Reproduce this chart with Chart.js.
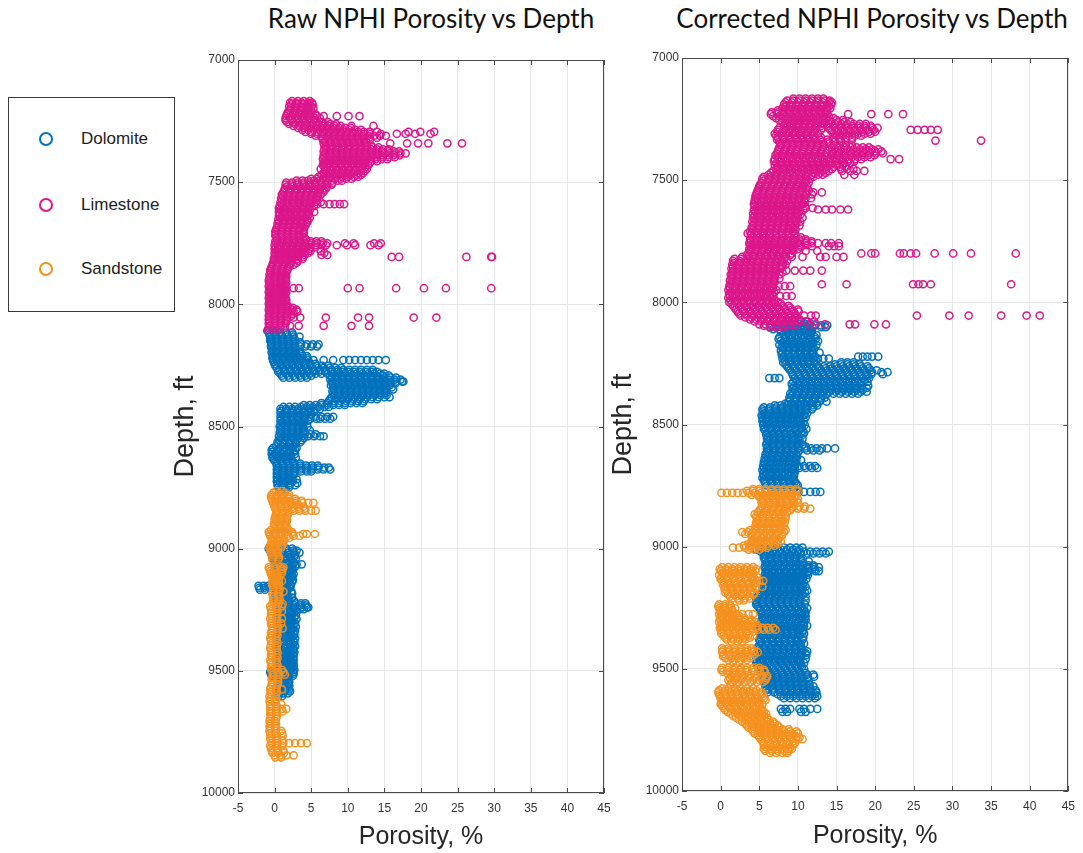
<!DOCTYPE html>
<html>
<head>
<meta charset="utf-8">
<script src="https://cdn.jsdelivr.net/npm/chart.js@4.4.1/dist/chart.umd.min.js"></script>
<style>
  html, body { margin:0; padding:0; background:#fff; }
  body { width:1083px; height:853px; position:relative; overflow:hidden; font-family:"Liberation Sans", Arial, sans-serif; }
  canvas { position:absolute; top:0; }
  #cLeft { left:160px; }
  #cRight { left:600px; }
  .title { position:absolute; top:2px; font-family:Lato, "Open Sans", sans-serif; font-size:26px; color:#111; white-space:nowrap; transform:translateX(-50%); }
  #legend { position:absolute; left:8px; top:97px; width:167px; height:215px; border:1.5px solid #3a3a3a; box-sizing:border-box; background:#fff; }
  .item { position:absolute; left:0; height:20px; }
  .mark { position:absolute; left:31px; top:4px; width:10px; height:10px; border-radius:50%; border:2px solid; box-sizing:content-box; transform:translate(-1px,-3px); }
  .lab { position:absolute; left:72px; top:-2px; font-size:17px; color:#222; }
</style>
</head>
<body>
<div class="title" id="tLeft" style="left:431px">Raw NPHI Porosity vs Depth</div>
<div class="title" id="tRight" style="left:872px">Corrected NPHI Porosity vs Depth</div>
<div id="legend"></div>
<canvas id="cLeft" width="460" height="853"></canvas>
<canvas id="cRight" width="483" height="853"></canvas>
<script>
// ---- categories / labels ----
const seriesNames = ['Dolomite', 'Limestone', 'Sandstone'];
const chartTitles = ['Raw NPHI Porosity vs Depth', 'Corrected NPHI Porosity vs Depth'];
const xLabel = 'Porosity, %';
const yLabel = 'Depth, ft';
const depthTicks = [7000, 7500, 8000, 8500, 9000, 9500, 10000];
const porosityTicks = [-5, 0, 5, 10, 15, 20, 25, 30, 35, 40, 45];

// ---- data rows: [depth ft, porosity % readings at that depth ...] ----
const rawLimestone = [
[7168,2.4,3.2,4.0,4.8],[7175,2.1,2.9,3.7,4.5,5.1],[7182,2.3,3.1,3.9,4.7,5.2],[7190,2.0,2.8,3.6,4.4,5.0],
[7198,2.2,3.0,3.8,4.6,5.3],[7206,2.0,2.7,3.5,4.3,5.0],[7214,1.8,2.6,3.4,4.2,4.8],[7222,1.7,2.5,3.3,4.1,4.6,5.6],
[7230,1.6,2.4,3.2,4.0,4.8,5.8,6.7,8.5,10.1,11.6],[7238,1.5,2.3,3.1,3.9,4.7,5.5,6.2],[7246,1.5,2.3,3.1,3.9,4.7,5.5],
[7254,1.7,2.5,3.3,4.1,4.9,5.7,6.5,7.3],[7262,2.0,2.8,3.6,4.4,5.2,6.0,6.8,7.6,8.4],
[7270,2.6,3.4,4.2,5.0,5.8,6.6,7.4,8.2,9.0,10.5,13.5],[7278,3.2,4.0,4.8,5.6,6.4,7.2,8.0,8.8,9.6,10.4],
[7286,3.8,4.6,5.4,6.2,7.0,7.8,8.6,9.4,10.2,11.0,11.8],[7294,4.2,5.0,5.8,6.6,7.4,8.2,9.0,9.8,10.6,11.4,12.2,13.0,14.0,18.3,19.9,21.8],
[7302,5.0,5.8,6.6,7.4,8.2,9.0,9.8,10.6,11.4,12.2,13.0,14.5,16.7,17.9,19.2,21.3],
[7310,5.6,6.4,7.2,8.0,8.8,9.6,10.4,11.2,12.0,12.8,13.6,14.4,15.2],[7318,6.5,7.3,8.1,8.9,9.7,10.5,11.3,12.1,12.9,14.0],
[7326,6.6,7.4,8.2,9.0,9.8,10.6,11.4,12.2,13.0],[7334,6.9,7.7,8.5,9.3,10.1,10.9,11.7,12.5],
[7341,6.7,7.5,8.3,9.1,9.9,10.7,11.5,12.3,15.8,18.1,19.6,21.0,23.6,25.6],[7350,6.8,7.6,8.4,9.2,10.0,10.8,11.6,12.4,13.2],
[7358,7.0,7.8,8.6,9.4,10.2,11.0,11.8,12.6,13.4,14.2],[7366,6.8,7.6,8.4,9.2,10.0,10.8,11.6,12.4,13.2,14.0,14.8,15.6],
[7374,6.7,7.5,8.3,9.1,9.9,10.7,11.5,12.3,13.1,13.9,14.7,15.5,16.3,17.0],
[7382,6.9,7.7,8.5,9.3,10.1,10.9,11.7,12.5,13.3,14.1,14.9,15.7,16.5,17.2,17.9],
[7390,6.7,7.5,8.3,9.1,9.9,10.7,11.5,12.3,13.1,13.9,14.7,15.5,16.3,17.1],
[7398,6.8,7.6,8.4,9.2,10.0,10.8,11.6,12.4,13.2,14.0,14.8,15.6,16.4],
[7406,6.6,7.4,8.2,9.0,9.8,10.6,11.4,12.2,13.0,13.8,14.6,15.4],[7414,6.8,7.6,8.4,9.2,10.0,10.8,11.6,12.4,13.2,14.0],
[7422,6.7,7.5,8.3,9.1,9.9,10.7,11.5,12.3,13.0],[7430,6.6,7.4,8.2,9.0,9.8,10.6,11.4,12.2,12.8],
[7438,6.8,7.6,8.4,9.2,10.0,10.8,11.6,12.4],[7446,6.3,7.0,7.8,8.6,9.4,10.2,11.0,11.8,12.6],
[7454,6.9,7.7,8.5,9.3,10.1,10.9,11.7,12.3],[7462,6.7,7.5,8.3,9.1,9.9,10.7,11.5,12.1],
[7470,6.4,7.2,8.0,8.8,9.6,10.4,11.2,11.8],[7478,6.0,6.8,7.6,8.4,9.2,10.0,10.8,11.4],
[7486,5.0,5.8,6.6,7.4,8.2,9.0,9.8,10.5],[7494,3.0,3.8,4.6,5.4,6.2,7.0,7.8,8.6,9.2],
[7502,1.6,2.4,3.2,4.0,4.8,5.6,6.4,7.2,7.9],[7510,1.5,2.3,3.1,3.9,4.7,5.5,6.3,7.1,7.8],
[7518,1.7,2.5,3.3,4.1,4.9,5.7,6.5,7.2],[7526,1.4,2.2,3.0,3.8,4.6,5.4,6.2,7.0],
[7534,1.3,2.1,2.9,3.7,4.5,5.3,6.1,6.8],[7542,1.2,2.0,2.8,3.6,4.4,5.2,6.0,6.6],
[7550,1.0,1.8,2.6,3.4,4.2,5.0,5.8,6.3],[7558,1.1,1.9,2.7,3.5,4.3,5.1,5.9],[7566,0.9,1.7,2.5,3.3,4.1,4.9,5.7],
[7574,1.0,1.8,2.6,3.4,4.2,5.0,5.8],[7582,0.8,1.6,2.4,3.2,4.0,4.8,5.6,6.3],
[7590,1.0,1.8,2.6,3.4,4.2,5.0,5.8,6.7,7.5,8.2,8.9,9.5],[7598,0.7,1.5,2.3,3.1,3.9,4.7,5.4],
[7606,0.6,1.4,2.2,3.0,3.8,4.6],[7614,0.8,1.6,2.4,3.2,4.0,4.8],[7622,0.6,1.4,2.2,3.0,3.8,4.6,5.4],
[7630,0.7,1.5,2.3,3.1,3.9,4.7],[7638,0.6,1.4,2.2,3.0,3.8,4.5],[7646,0.8,1.6,2.4,3.2,4.0,4.8],
[7654,0.5,1.3,2.1,2.9,3.7,4.5],[7662,0.6,1.4,2.2,3.0,3.8,4.5],[7670,0.4,1.2,2.0,2.8,3.6,4.3],
[7678,0.5,1.3,2.1,2.9,3.7,4.2],[7686,0.3,1.1,1.9,2.7,3.5,4.0],[7694,0.2,1.0,1.8,2.6,3.4,4.0],
[7702,0.1,0.9,1.7,2.5,3.3,3.9],[7710,0.2,1.0,1.8,2.6,3.4,4.0],[7718,0.1,0.9,1.7,2.5,3.3],
[7726,0.2,1.0,1.8,2.6,3.4,4.0],[7734,0.3,1.1,1.9,2.7,3.5,4.3],[7742,0.1,0.9,1.7,2.5,3.3,4.1,4.9,5.7,6.4],
[7750,0.2,1.0,1.8,2.6,3.4,4.2,5.0,5.8,6.6,7.2,9.6,10.8,13.6,14.5],
[7758,0.0,0.8,1.6,2.4,3.2,4.0,4.8,5.6,6.4,7.0,8.5,9.9,11.0,13.1,14.2],
[7766,0.1,0.9,1.7,2.5,3.3,4.1,4.9,5.6],[7774,0.0,0.8,1.6,2.4,3.2,4.0,4.8],
[7782,0.2,1.0,1.8,2.6,3.4,4.2,4.9,6.3],[7790,0.0,0.8,1.6,2.4,3.2,4.0,4.6,6.8],
[7798,0.1,0.9,1.7,2.5,3.3,4.1,6.4,7.2],[7806,0.0,0.8,1.6,2.4,3.2,3.9,16.0,17.0,26.2,29.6,29.7],
[7814,-0.1,0.7,1.5,2.3,3.1,3.8],[7822,0.0,0.8,1.6,2.4,3.2],[7830,-0.2,0.6,1.4,2.2,3.0],
[7838,-0.3,0.5,1.3,2.1,2.6],[7846,-0.4,0.4,1.2,2.0],[7854,-0.5,0.3,1.1,1.8],[7862,-0.6,0.2,1.0,1.7],
[7870,-0.5,0.3,1.1,1.6],[7878,-0.7,0.1,0.9,1.5],[7886,-0.6,0.2,1.0,1.6],[7894,-0.7,0.1,0.9,1.4],
[7902,-0.8,0.0,0.8,1.5],[7910,-0.6,0.2,1.0,1.6],[7918,-0.7,0.1,0.9,1.4],[7926,-0.8,0.0,0.8,1.5],
[7934,-0.6,0.2,1.0,1.5,2.6,3.3,10.0,11.6,16.6,20.4,23.4,29.6],[7942,-0.7,0.1,0.9,1.4],
[7950,-0.8,0.0,0.8,1.6],[7958,-0.6,0.2,1.0,1.5],[7966,-0.7,0.1,0.9,1.4],[7974,-0.8,0.0,0.8,1.5],
[7982,-0.6,0.2,1.0,1.6],[7990,-0.7,0.1,0.9,1.5],[7998,-0.8,0.0,0.8,1.6],[8006,-0.6,0.2,1.0,1.8],
[8014,-0.7,0.1,0.9,1.7,2.5],[8022,-0.8,0.0,0.8,1.6,2.4,3.0],[8030,-0.6,0.2,1.0,1.8,2.6,3.1],
[8038,-0.7,0.1,0.9,1.7,2.5],[8046,-0.8,0.0,0.8,1.6,2.3],
[8054,-0.7,0.1,0.9,1.7,2.6,3.5,7.0,11.4,12.9,19.0,22.1],[8062,-0.8,0.0,0.8,1.6],
[8070,-0.7,0.1,0.9,1.6],[8078,-0.8,0.0,0.8,1.5],[8088,-0.7,0.1,0.8,2.1,3.3,6.7,10.5,12.9],
[8096,-0.8,0.0,0.8,1.4],[8104,-0.9,-0.1,0.6]
];

const rawDolomite = [
[8108,-1.0,-0.3,0.3],[8116,-0.8,0.0,0.8,1.6,2.4],[8124,-0.7,0.1,0.9,1.7,2.5],[8132,-0.6,0.2,1.0,1.8,2.6,3.4],
[8140,-0.5,0.3,1.1,1.9,2.7],[8148,-0.6,0.2,1.0,1.8,2.6],[8156,-0.5,0.3,1.1,1.9,2.7,3.5],
[8164,-0.4,0.4,1.2,2.0,2.8,3.6,4.4,5.2,6.0],[8172,-0.5,0.3,1.1,1.9,2.7,3.5,4.2,5.0,5.8],
[8180,-0.4,0.4,1.2,2.0,2.8],[8188,-0.3,0.5,1.3,2.1,2.9],[8196,-0.4,0.4,1.2,2.0,2.8,3.4],
[8204,-0.3,0.5,1.3,2.1,2.9,3.7],[8212,-0.2,0.6,1.4,2.2,3.0,3.8,4.4],[8220,-0.3,0.5,1.3,2.1,2.9,3.7,4.5],
[8228,-0.2,0.6,1.4,2.2,3.0,3.8,4.6,5.3,6.7,8.0,9.4,10.2,11.0,11.8,12.6,13.4,14.2,15.2],
[8236,-0.1,0.7,1.5,2.3,3.1,3.9,4.7],[8244,0.0,0.8,1.6,2.4,3.2,4.0,4.8,5.6],
[8252,0.1,0.9,1.7,2.5,3.3,4.1,4.9,5.7,6.5,7.3],[8260,0.3,1.1,1.9,2.7,3.5,4.3,5.1,5.9,6.7,7.5,8.3,9.1],
[8268,0.6,1.4,2.2,3.0,3.8,4.6,5.4,6.2,7.0,7.8,8.6,9.4,10.2,11.0,11.8,12.6,13.4],
[8276,0.5,1.3,2.1,2.9,3.7,4.5,5.3,6.1,6.9,7.7,8.5,9.3,10.1,10.9,11.7,12.5,13.3,14.0],
[8284,0.8,1.6,2.4,3.2,4.0,4.8,5.6,6.4,7.2,8.0,8.8,9.6,10.4,11.2,12.0,12.8,13.6,14.4,15.0],
[8292,1.0,1.8,2.6,3.4,4.2,5.0,7.6,8.4,9.2,10.0,10.8,11.6,12.4,13.2,14.0,14.8,15.6],
[8300,1.2,2.0,2.8,3.6,4.4,7.8,8.6,9.4,10.2,11.0,11.8,12.6,13.4,14.2,15.0,15.8,16.6],
[8308,7.6,8.4,9.2,10.0,10.8,11.6,12.4,13.2,14.0,14.8,15.6,16.4,17.2],
[8316,7.8,8.6,9.4,10.2,11.0,11.8,12.6,13.4,14.2,15.0,15.8,16.6,17.4,17.6],
[8324,7.9,8.7,9.5,10.3,11.1,11.9,12.7,13.5,14.3,15.1,15.9,16.5],
[8332,7.7,8.5,9.3,10.1,10.9,11.7,12.5,13.3,14.1,14.9,15.7],
[8340,8.0,8.8,9.6,10.4,11.2,12.0,12.8,13.6,14.4,15.2,16.0],
[8348,8.1,8.9,9.7,10.5,11.3,12.1,12.9,13.7,14.5,15.3,16.2],
[8356,7.9,8.7,9.5,10.3,11.1,11.9,12.7,13.5,14.3,15.0],[8364,8.0,8.8,9.6,10.4,11.2,12.0,12.8,13.6,14.4,15.2],
[8372,8.1,8.9,9.7,10.5,11.3,12.1,12.9,13.7,14.5,15.3],[8380,7.8,8.6,9.4,10.2,11.0,11.8,12.6,13.4,14.2,15.0,15.7],
[8388,7.6,8.4,9.2,10.0,10.8,11.6,12.4,13.2,14.0],[8396,7.4,8.2,9.0,9.8,10.6,11.4,12.2],
[8404,6.4,7.2,8.0,8.8,9.6,10.4,11.2,12.0],[8412,4.0,4.8,5.6,6.4,7.2,8.0,8.8,9.6],
[8420,1.2,2.0,2.8,3.6,4.4,5.2,6.0,6.8,7.4],[8428,0.8,1.6,2.4,3.2,4.0,4.8,5.6,6.2],
[8436,0.9,1.7,2.5,3.3,4.1,4.9,5.4],[8444,0.8,1.6,2.4,3.2,4.0,4.6],[8452,1.0,1.8,2.6,3.4,4.2,5.0],
[8460,0.8,1.6,2.4,3.2,4.0,4.8,5.6,6.4,7.2,8.0],[8468,0.9,1.7,2.5,3.3,4.1,4.9,5.7,6.2,6.9,7.6],
[8476,0.8,1.6,2.4,3.2,4.0,4.6],[8484,1.0,1.8,2.6,3.4,4.0],[8492,0.8,1.6,2.4,3.2,3.9],
[8500,0.7,1.5,2.3,3.1,3.8,4.5],[8508,0.9,1.7,2.5,3.3,4.0],[8516,0.8,1.6,2.4,3.2,4.0,4.8],
[8524,0.7,1.5,2.3,3.1,3.9],[8532,0.9,1.7,2.5,3.3,4.1,4.9,5.6],[8540,0.6,1.4,2.2,3.0,3.8,4.6,5.4,6.2,6.7],
[8548,0.8,1.6,2.4,3.2,4.0],[8556,0.6,1.4,2.2,3.0,3.7],[8564,0.4,1.2,2.0,2.8,3.5],[8572,0.5,1.3,2.1,2.9],
[8580,0.2,1.0,1.8,2.6],[8588,-0.2,0.6,1.4,2.2,3.0],[8596,-0.4,0.4,1.2,2.0,2.8],[8604,-0.3,0.5,1.3,2.1,2.6],
[8612,-0.4,0.4,1.2,2.0,2.8],[8620,-0.2,0.6,1.4,2.2],[8628,-0.3,0.5,1.3,2.1,2.9],[8636,-0.1,0.7,1.5,2.3],
[8644,0.1,0.9,1.7,2.5],[8652,0.3,1.1,1.9,2.7,3.5],[8660,0.3,1.1,1.9,2.7,3.5,4.3,5.1,5.9],
[8668,0.4,1.2,2.0,2.8,3.6,4.4,5.2,6.0,6.8,7.4],[8676,0.3,1.1,1.9,2.7,3.5,4.3,5.1,5.9,6.7,7.6],
[8684,0.4,1.2,2.0,2.8,3.6,4.4,5.0],[8692,0.3,1.1,1.9,2.7],[8700,0.4,1.2,2.0,2.6],[8708,0.3,1.1,1.9,2.3],
[8716,0.4,1.2,2.0,3.0],[8724,0.3,1.1,1.9,2.5],[8732,0.5,1.3,2.1,3.1],[8740,0.4,1.2,2.0,2.8],
[8748,0.5,1.3,2.0],[8756,0.7,1.5],
[9000,-0.8,0.0,0.8,1.6,2.4],[9008,-0.6,0.2,1.0,1.8,2.6,3.0],[9016,-0.5,0.3,1.1,1.9,2.7,3.4],[9024,-0.4,0.4,1.2,2.0,2.8],
[9032,-0.3,0.5,1.3,2.1,2.7],[9040,-0.2,0.6,1.4,2.2,2.9],[9048,0.0,0.8,1.6,2.4],[9056,0.2,1.0,1.8,2.6],
[9064,0.1,0.9,1.7,2.5,3.0,3.7],[9072,0.0,0.8,1.6,2.4,2.9],[9080,0.1,0.9,1.7,2.4],[9088,0.2,1.0,1.7,2.5],
[9096,0.0,0.8,1.6,2.3],[9104,0.1,0.9,1.7,2.6],[9112,0.2,1.0,1.6,2.4],[9120,0.0,0.8,1.5,2.3],[9128,0.1,0.9,1.6,2.5],
[9136,0.2,1.0,1.7,2.4],[9144,0.1,0.9,1.5,2.2],[9152,-2.2,-1.5,-0.9,0.2,1.0,1.6,2.2],[9160,-2.1,-1.4,-0.8,0.1,0.9,1.5,2.1],
[9168,-2.0,-1.3,0.2,1.0,1.8],[9176,0.1,0.9,1.6,2.3],[9184,0.2,1.0,1.7,2.4],[9192,0.1,0.9,1.7],[9200,0.2,1.0,1.6,2.4],
[9208,0.3,1.1,1.9],[9216,0.3,1.1,1.9,2.7],[9224,0.4,1.2,2.0,2.8,3.6,4.2],[9232,0.3,1.1,1.9,2.7,3.5,4.3],
[9240,0.4,1.2,2.0,2.8,3.6,4.4,4.6],[9248,0.3,1.1,1.9,2.7,3.5,4.0],[9256,0.5,1.3,2.1,2.9],
[9264,0.4,1.2,2.0,2.6],[9272,0.6,1.4,2.2,2.9],[9280,0.5,1.3,2.1,2.7],[9288,0.6,1.4,2.2,3.0],[9296,0.5,1.3,2.1,2.6],
[9304,0.6,1.4,2.2,2.8],[9312,0.5,1.3,2.1,2.6],[9320,0.6,1.4,2.2,2.9],[9328,0.5,1.3,2.1,2.5],
[9336,0.6,1.4,2.2,2.8],[9344,0.5,1.3,2.1,2.6],[9352,0.6,1.4,2.2,2.7],[9360,0.5,1.3,2.1,2.5],
[9368,0.6,1.4,2.2,2.8],[9376,0.5,1.3,2.1,2.6],[9384,0.4,1.2,2.0,2.7],[9392,0.5,1.3,2.1,2.5],
[9400,0.6,1.4,2.2,2.8],[9408,0.5,1.3,2.1,2.6],[9416,0.4,1.2,2.0,2.6],[9424,0.5,1.3,2.1,2.7],
[9432,0.4,1.2,2.0,2.5],[9440,0.5,1.3,2.1,2.6],[9448,0.4,1.2,2.0,2.5],[9456,0.5,1.3,2.1,2.6],
[9464,0.4,1.2,2.0,2.5],[9472,0.5,1.3,2.1,2.6],[9480,0.4,1.2,2.0,2.6],[9488,0.3,1.1,1.9,2.5],
[9496,-0.2,0.6,1.4,2.1,2.7],[9504,-0.6,0.2,1.0,1.8,2.6],[9512,-0.5,0.3,1.1,1.9,2.6],
[9520,-0.4,0.4,1.2,2.0,2.5],[9528,0.3,1.1,1.8],[9536,0.4,1.2,1.9],[9544,0.5,1.3,2.0],[9552,0.6,1.4,1.9],
[9560,0.5,1.3,2.0],[9568,0.5,1.3,1.9],[9576,0.7,1.5,2.0],[9584,0.6,1.4,2.1],[9592,0.6,1.2,1.8],[9604,0.5,1.0]
];

const rawSandstone = [
[8764,0.2,1.0],[8772,-0.2,0.6,1.4],[8780,-0.4,0.4,1.2,2.0],[8788,-0.5,0.3,1.1,1.9],[8796,-0.4,0.4,1.2,2.0,2.8],
[8804,-0.3,0.5,1.3,2.1,2.9,3.7],[8812,-0.2,0.6,1.4,2.2,3.0,3.8,4.6,5.3],[8820,-0.1,0.7,1.5,2.3,3.1],
[8828,0.0,0.8,1.6,2.4,3.2,3.9],[8836,0.1,0.9,1.7,2.5,3.3,4.1],[8844,0.2,1.0,1.8,2.6,3.4,4.2,5.0,5.6],
[8852,0.3,1.1,1.9],[8860,0.2,1.0,1.8],[8868,0.1,0.9,1.7],[8876,0.0,0.8,1.6],[8884,0.1,0.9,1.7],
[8892,0.0,0.8,1.6],[8900,-0.1,0.7,1.5],[8908,0.0,0.8,1.6],[8916,0.1,0.9,1.7],[8924,-0.5,0.3,1.1,1.9],
[8932,-0.8,0.0,0.8,1.6,2.4],[8940,-0.7,0.1,0.9,1.7,2.5,3.9,4.4,5.5],[8948,-0.6,0.2,1.0,1.8,2.6,3.4],
[8956,-0.4,0.4,1.2,2.0],[8964,-0.3,0.5,1.3],[8972,-0.4,0.4,1.2],[8980,-0.5,0.3,1.1],[8988,-0.6,0.2,1.0],
[8996,-0.7,0.1,0.9],[9004,-0.6,0.2],[9012,-0.5,0.3],[9020,-0.4,0.4],[9028,-0.3,0.5],[9036,-0.2,0.6],
[9044,-0.3,0.5],[9076,-0.8,0.0,0.8,1.2],[9084,-0.7,0.1,0.9,1.1],[9092,-0.6,0.2,1.0],[9100,-0.5,0.3,1.0],
[9108,-0.4,0.4],[9116,-0.3,0.5],[9124,-0.2,0.6],[9132,-0.3,0.5,1.0],[9140,-0.2,0.6],[9148,-0.3,0.5],
[9156,-0.2,0.6],[9166,-0.1,0.7],[9176,-0.2,0.6,1.2],[9186,-0.3,0.5],[9196,-0.2,0.6],[9206,-0.1,0.7],
[9216,-0.2,0.6],[9226,-0.3,0.5,1.1],[9236,-0.6,0.2,1.0],[9246,-0.5,0.3],[9256,-0.4,0.4,1.0],
[9266,-0.5,0.3],[9276,-0.4,0.4],[9286,-0.6,0.2,1.0],[9296,-0.4,0.4],[9306,-0.5,0.3,0.9],[9316,-0.4,0.4],
[9326,-0.3,0.5,1.1],[9336,-0.4,0.4],[9346,-0.5,0.3],[9356,-0.4,0.4],[9366,-0.6,0.2],[9376,-0.5,0.3],
[9386,-0.4,0.4],[9396,-0.5,0.3],[9406,-0.6,0.2],[9416,-0.5,0.3],[9426,-0.4,0.4],[9436,-0.5,0.3],
[9446,-0.4,0.4],[9456,-0.6,0.2],[9466,-0.5,0.3],[9476,-0.4,0.4],[9486,-0.5,0.3],[9496,-0.4,0.4,1.0],
[9506,-0.3,0.5,1.2],[9516,-0.2,0.6,1.4],[9526,-0.3,0.5],[9536,-0.4,0.4],[9546,-0.3,0.5],[9556,-0.4,0.4],
[9566,-0.5,0.3],[9576,-0.6,0.2,1.0],[9586,-0.5,0.3],[9596,-0.6,0.2],[9606,-0.7,0.1],[9616,-0.6,0.2],
[9626,-0.7,0.1],[9636,-0.6,0.2,0.9],[9646,-0.5,0.3],[9656,-0.6,0.2,1.0,1.6],[9666,-0.5,0.3,1.1],
[9676,-0.6,0.2],[9686,-0.5,0.3],[9696,-0.6,0.2],[9706,-0.7,0.1],[9716,-0.6,0.2],[9726,-0.7,0.1],
[9736,-0.6,0.2],[9746,-0.7,0.1,0.9],[9756,-0.6,0.2,1.0],[9766,-0.5,0.3,1.1],[9776,-0.6,0.2],
[9786,-0.5,0.3,1.1],[9796,-0.4,0.4,1.2,2.0,2.8,3.6,4.4],[9806,-0.6,0.2,1.0],[9816,-0.5,0.3],
[9826,-0.4,0.4,1.2],[9836,-0.3,0.5,1.3],[9846,0.0,0.8,1.6,2.6],[9854,0.1,0.9]
];

const corLimestone = [
[7166,9.4,10.2,11.0,11.8,12.6,13.3],[7174,8.6,9.4,10.2,11.0,11.8,12.6,13.4,14.1],
[7182,8.4,9.2,10.0,10.8,11.6,12.4,13.2,14.0,14.4],[7190,8.2,9.0,9.8,10.6,11.4,12.2,13.0,13.8,14.3],
[7198,8.4,9.2,10.0,10.8,11.6,12.4,13.2,14.0],[7206,8.0,8.8,9.6,10.4,11.2,12.0,12.8,13.6,14.2],
[7214,7.4,8.2,9.0,9.8,10.6,11.4,12.2,13.0,13.8],[7222,6.6,7.4,8.2,9.0,9.8,10.6,11.4,12.2,13.0,13.6],
[7230,6.5,7.3,8.1,8.9,9.7,10.5,11.3,12.1,12.9,13.7,16.5,19.5,21.7,23.6],
[7238,6.8,7.6,8.4,9.2,10.0,10.8,11.6,12.4,13.2,14.0],[7246,7.2,8.0,8.8,9.6,10.4,11.2,12.0,12.8,13.6,14.6],
[7254,7.6,8.4,9.2,10.0,10.8,11.6,12.4,13.2,14.0,15.0,15.8],
[7262,8.0,8.8,9.6,10.4,11.2,12.0,12.8,13.6,14.4,15.2,16.0,16.8],
[7270,8.4,9.2,10.0,10.8,11.6,12.4,13.2,14.0,14.8,15.6,16.4,17.2,18.0,18.8],
[7278,8.2,9.0,9.8,10.6,11.4,12.2,13.0,13.8,14.6,15.4,16.2,17.0,17.8,18.6,19.4],
[7286,7.6,8.4,9.2,10.0,10.8,11.6,12.4,13.2,14.0,14.8,15.6,16.4,17.2,18.0,18.8,19.6,20.3],
[7294,7.4,8.2,9.0,9.8,10.6,11.4,12.2,13.0,14.2,15.0,15.8,16.6,17.4,18.2,19.0,19.8,24.6,25.5,26.4,27.2,28.1],
[7302,7.3,8.1,8.9,9.7,10.5,11.3,12.1,14.4,15.2,16.0,16.8,17.6,18.4,19.2,20.0],
[7310,7.0,7.8,8.6,9.4,10.2,11.0,11.8,12.6,14.6,15.4,16.2,17.0,17.8,18.6,19.4],
[7318,7.2,8.0,8.8,9.6,10.4,11.2,12.0,15.0,15.8,16.6,17.4,18.2],
[7326,7.4,8.2,9.0,9.8,10.6,11.4,12.2,13.0,14.6,15.4,16.2,17.0],
[7334,7.3,8.1,8.9,9.7,10.5,11.3,12.1,12.9,13.8,14.6,15.4,16.2,17.0],[7338,27.8,33.7],
[7342,7.6,8.4,9.2,10.0,10.8,11.6,12.4,13.2,14.0,14.8,15.6],[7350,7.7,8.5,9.3,10.1,10.9,11.7,12.5,13.3,14.0],
[7358,7.8,8.6,9.4,10.2,11.0,11.8,12.6,13.4,14.6,15.4,16.2,17.0],
[7366,7.6,8.4,9.2,10.0,10.8,11.6,12.4,13.2,14.4,15.2,16.0,16.8,17.6,18.4,19.2],
[7374,7.5,8.3,9.1,9.9,10.7,11.5,12.3,13.1,14.0,14.8,15.6,16.4,17.2,18.0,18.8,19.6,20.4],
[7382,7.4,8.2,9.0,9.8,10.6,11.4,12.2,13.0,14.4,15.2,16.0,16.8,17.6,18.4,19.2,20.0,20.8],
[7390,7.3,8.1,8.9,9.7,10.5,11.3,12.1,12.9,13.7,14.5,15.3,16.1,16.9,17.7,18.5,19.3,20.1,21.0],
[7398,7.1,7.9,8.7,9.5,10.3,11.1,11.9,12.7,13.5,14.3,15.1,15.9,16.7,17.5,18.3,19.1,19.9],
[7406,7.4,8.2,9.0,9.8,10.6,11.4,12.2,13.0,13.8,14.6,15.4,16.2,17.0,17.8,18.6,19.4],
[7414,7.0,7.8,8.6,9.4,10.2,11.0,11.8,12.6,13.4,14.2,15.0,15.8,16.6,17.4,18.2,22.0,23.1],
[7422,6.9,7.7,8.5,9.3,10.1,10.9,11.7,12.5,13.3,14.1,14.9,15.7,16.5,17.3],
[7430,7.2,8.0,8.8,9.6,10.4,11.2,12.0,12.8,13.6,14.4,15.2,16.0,16.8],
[7438,7.0,7.8,8.6,9.4,10.2,11.0,11.8,12.6,13.4,14.2,15.0,15.8],
[7446,7.4,8.2,9.0,9.8,10.6,11.4,12.2,13.0,13.8,14.6,15.4,16.2],
[7454,7.2,8.0,8.8,9.6,10.4,11.2,12.0,12.8,13.6,14.4,15.6,16.4,17.2],
[7462,6.8,7.6,8.4,9.2,10.0,10.8,11.6,12.4,13.2,14.0,15.7,16.8,17.6,18.6],
[7470,6.5,7.3,8.1,8.9,9.7,10.5,11.3,12.1,12.9,13.6],[7478,6.2,7.0,7.8,8.6,9.4,10.2,11.0,11.8,12.6,13.2,16.0,17.3],
[7486,5.6,6.4,7.2,8.0,8.8,9.6,10.4,11.2,12.0],[7494,5.4,6.2,7.0,7.8,8.6,9.4,10.2,11.0,11.6],
[7502,5.5,6.3,7.1,7.9,8.7,9.5,10.3,11.1],[7510,5.3,6.1,6.9,7.7,8.5,9.3,10.1,10.9,11.4],
[7518,5.1,5.9,6.7,7.5,8.3,9.1,9.9,10.7],[7526,5.0,5.8,6.6,7.4,8.2,9.0,9.8,10.6,11.2],
[7534,4.9,5.7,6.5,7.3,8.1,8.9,9.7,10.5,11.0],[7542,4.8,5.6,6.4,7.2,8.0,8.8,9.6,10.4,11.4],
[7550,4.7,5.5,6.3,7.1,7.9,8.7,9.5,10.3,11.1,12.0,13.1],[7558,4.6,5.4,6.2,7.0,7.8,8.6,9.4,10.2,11.0,11.8],
[7566,4.5,5.3,6.1,6.9,7.7,8.5,9.3,10.1,10.8],[7574,4.6,5.4,6.2,7.0,7.8,8.6,9.4,10.2,11.0,11.7],
[7582,4.4,5.2,6.0,6.8,7.6,8.4,9.2,10.0,10.8],[7590,4.5,5.3,6.1,6.9,7.7,8.5,9.3,10.1,10.9],
[7598,4.3,5.1,5.9,6.7,7.5,8.3,9.1,9.9,10.7],[7606,4.4,5.2,6.0,6.8,7.6,8.4,9.2,10.0,10.9],
[7614,4.6,5.4,6.2,7.0,7.8,8.6,9.4,10.2,11.0,11.9],[7620,12.6,13.6,14.4,15.5,16.5],
[7622,4.3,5.1,5.9,6.7,7.5,8.3,9.1,9.9,10.7],[7630,4.5,5.3,6.1,6.9,7.7,8.5,9.3,10.1],
[7638,4.2,5.0,5.8,6.6,7.4,8.2,9.0,9.8,10.4],[7646,4.4,5.2,6.0,6.8,7.6,8.4,9.2,10.0],
[7654,4.2,5.0,5.8,6.6,7.4,8.2,9.0,9.8,10.6],[7662,4.4,5.2,6.0,6.8,7.6,8.4,9.2,9.9],
[7670,4.1,4.9,5.7,6.5,7.3,8.1,8.9,9.7,10.3],[7678,4.3,5.1,5.9,6.7,7.5,8.3,9.1,9.8],
[7686,4.2,5.0,5.8,6.6,7.4,8.2,9.0,9.6,10.2],[7694,4.0,4.8,5.6,6.4,7.2,8.0,8.8,9.4],
[7702,4.2,5.0,5.8,6.6,7.4,8.2,9.0,9.7],[7710,3.8,4.6,5.4,6.2,7.0,7.8,8.6,9.4],
[7718,3.5,4.0,4.8,5.6,6.4,7.2,8.0,8.8,9.6],[7726,3.9,4.7,5.5,6.3,7.1,7.9,8.7,9.5],
[7734,4.1,4.9,5.7,6.5,7.3,8.1,8.9,9.7,10.4],[7742,3.8,4.6,5.4,6.2,7.0,7.8,8.6,9.4,10.2,11.0],
[7750,3.9,4.7,5.5,6.3,7.1,7.9,8.7,9.5,10.3,11.1,11.8],
[7758,3.7,4.5,5.3,6.1,6.9,7.7,8.5,9.3,10.1,11.0,11.8,12.6,13.6,14.3,15.3],
[7766,3.8,4.6,5.4,6.2,7.0,7.8,8.6,9.4,10.2,11.2],[7770,11.8,14.0,14.7,15.3],
[7774,3.9,4.7,5.5,6.3,7.1,7.9,8.7,9.5,10.4],[7782,3.7,4.5,5.3,6.1,6.9,7.7,8.5,9.3,10.0],
[7790,3.8,4.6,5.4,6.2,7.0,7.8,8.6,9.4,11.0,12.5],
[7800,3.6,4.4,5.2,6.0,6.8,7.6,8.4,9.2,18.2,19.5,20.0,23.2,23.7,24.6,25.3,27.7,30.1,32.4,38.2],
[7806,3.4,4.2,5.0,5.8,6.6,7.4,8.2,9.0],[7814,2.8,3.6,4.4,5.2,6.0,6.8,7.6,8.4,9.2,10.6,12.9,13.6,15.0,15.9],
[7822,1.8,2.6,3.4,4.2,5.0,5.8,6.6,7.4,8.2],[7830,1.6,2.4,3.2,4.0,4.8,5.6,6.4,7.2,8.0,8.6],
[7838,1.7,2.5,3.3,4.1,4.9,5.7,6.5,7.3,8.1],[7846,1.5,2.3,3.1,3.9,4.7,5.5,6.3,7.1,7.9,8.4],
[7854,1.6,2.4,3.2,4.0,4.8,5.6,6.4,7.2,8.0],[7862,1.4,2.2,3.0,3.8,4.6,5.4,6.2,7.0,7.8],
[7870,1.6,2.4,3.2,4.0,4.8,5.6,6.4,7.2,8.5,9.6,10.7,11.6,13.1],[7878,1.5,2.3,3.1,3.9,4.7,5.5,6.3,7.1,8.0],
[7886,1.3,2.1,2.9,3.7,4.5,5.3,6.1,6.9,7.6],[7894,1.5,2.3,3.1,3.9,4.7,5.5,6.3,7.0],
[7902,1.4,2.2,3.0,3.8,4.6,5.4,6.2,7.0,7.6],[7910,1.2,2.0,2.8,3.6,4.4,5.2,6.0,6.8],
[7918,1.4,2.2,3.0,3.8,4.6,5.4,6.2,7.0],
[7926,1.3,2.1,2.9,3.7,4.5,5.3,6.1,6.8,13.1,16.3,24.9,25.6,26.2,27.2,37.6],
[7934,1.1,1.9,2.7,3.5,4.3,5.1,5.9,6.7,7.5,8.3,9.0],[7942,1.2,2.0,2.8,3.6,4.4,5.2,6.0,6.8],
[7950,1.0,1.8,2.6,3.4,4.2,5.0,5.8,6.6,7.2],[7958,1.3,2.1,2.9,3.7,4.5,5.3,6.1,6.9],
[7966,1.1,1.9,2.7,3.5,4.3,5.1,5.9,6.7],[7974,1.2,2.0,2.8,3.6,4.4,5.2,6.0,6.8,7.7,8.5,9.2],
[7982,1.0,1.8,2.6,3.4,4.2,5.0,5.8,6.6],[7990,1.3,2.1,2.9,3.7,4.5,5.3,6.1,6.9],
[7998,1.1,1.9,2.7,3.5,4.3,5.1,5.9,6.7,7.4],[8006,1.4,2.2,3.0,3.8,4.6,5.4,6.2,7.0,7.8],
[8014,1.6,2.4,3.2,4.0,4.8,5.6,6.4,7.2,8.0,8.8],[8022,1.8,2.6,3.4,4.2,5.0,5.8,6.6,7.4,8.2,9.0],
[8030,2.0,2.8,3.6,4.4,5.2,6.0,6.8,7.6,8.4,9.2,10.0],[8038,2.2,3.0,3.8,4.6,5.4,6.2,7.0,7.8,8.6,9.4,10.1],
[8046,2.4,3.2,4.0,4.8,5.6,6.4,7.2,8.0,8.8,9.6],
[8054,2.6,3.4,4.2,5.0,5.8,6.6,7.4,8.2,9.0,9.8,10.8,11.7,12.3,25.4,29.6,32.1,36.3,39.6,41.3],
[8062,3.2,4.0,4.8,5.6,6.4,7.2,8.0,8.8,9.6],[8070,3.8,4.6,5.4,6.2,7.0,7.8,8.6,9.4,10.2],
[8078,4.4,5.2,6.0,6.8,7.6,8.4,9.2,10.0,11.0,12.1],
[8090,5.0,5.8,6.6,7.4,8.2,9.0,9.8,11.4,12.3,13.5,16.7,17.4,19.9,21.4],
[8096,5.6,6.4,7.2,8.0,8.8,9.6],[8104,6.4,7.2,8.0]
];

const corDolomite = [
[8078,8.8,9.6,10.4,11.2],[8086,7.6,8.4,9.2,10.0,10.8,11.6],[8094,6.6,7.4,8.2,9.0,9.8,10.6,11.4,12.2,13.0,13.8],
[8102,6.4,7.2,8.0,8.8,9.6,10.4,11.2,11.9,13.0,13.6],[8110,6.8,7.6,8.4,9.2,10.0,10.8,11.6],
[8118,7.8,8.6,9.4,10.2,11.0,11.8],[8126,8.6,9.4,10.2,11.0,11.7],[8134,8.4,9.2,10.0,10.8,11.6,12.4],
[8142,7.6,8.4,9.2,10.0,10.8,11.6,12.2],[8150,7.5,8.3,9.1,9.9,10.7,11.5,12.3],[8158,7.8,8.6,9.4,10.2,11.0,11.8,12.6],
[8166,8.0,8.8,9.6,10.4,11.2,12.0],[8174,7.6,8.4,9.2,10.0,10.8,11.6,12.4],[8182,7.9,8.7,9.5,10.3,11.1,11.9],
[8190,8.1,8.9,9.7,10.5,11.3,12.1],[8198,7.8,8.6,9.4,10.2,11.0,11.8],[8206,8.0,8.8,9.6,10.4,11.2,12.0,12.8],
[8214,7.9,8.7,9.5,10.3,11.1,11.8],[8222,8.2,9.0,9.8,10.6,11.4,12.2,17.8,18.4,19.0,19.6,20.4],
[8230,8.0,8.8,9.6,10.4,11.2,12.0,12.6,13.3,14.0],[8238,8.3,9.1,9.9,10.7,11.5,12.3],
[8246,8.1,8.9,9.7,10.5,11.3,12.1,15.6,16.4,17.2],[8254,8.4,9.2,10.0,10.8,11.6,12.4,14.8,15.6,16.4,17.2,18.0],
[8262,8.6,9.4,10.2,11.0,11.8,12.6,13.4,14.2,15.0,15.8,16.6,17.4,18.2,19.0],
[8270,8.8,9.6,10.4,11.2,12.0,12.8,13.6,14.4,15.2,16.0,16.8,17.6,18.4,19.2],
[8278,9.0,9.8,10.6,11.4,12.2,13.0,13.8,14.6,15.4,16.2,17.0,17.8,18.6,19.4,20.2],
[8286,9.2,10.0,10.8,11.6,12.4,13.2,14.0,14.8,15.6,16.4,17.2,18.0,18.8,19.6,20.8,21.6],
[8294,9.3,10.1,10.9,11.7,12.5,13.3,14.1,14.9,15.7,16.5,17.3,18.1,18.9,19.5,21.0],
[8302,9.4,10.2,11.0,11.8,12.6,13.4,14.2,15.0,15.8,16.6,17.4,18.2,19.0],
[8310,6.3,7.0,7.6,9.6,10.4,11.2,12.0,12.8,13.6,14.4,15.2,16.0,16.8,17.6,18.4,19.2],
[8318,9.8,10.6,11.4,12.2,13.0,13.8,14.6,15.4,16.2,17.0,17.8,18.6],
[8326,9.4,10.2,11.0,11.8,12.6,13.4,14.2,15.0,15.8,16.6,17.4,18.2,19.0],
[8334,9.2,10.0,10.8,11.6,12.4,13.2,14.0,14.8,15.6,16.4,17.2,18.0],
[8342,9.5,10.3,11.1,11.9,12.7,13.5,14.3,15.1,15.9,16.7,17.5,18.3,19.1],
[8350,9.3,10.1,10.9,11.7,12.5,13.3,14.1,14.9,15.7,16.5,17.3,18.1,18.9],
[8358,9.6,10.4,11.2,12.0,12.8,13.6,14.4,15.2,16.0,16.8,17.6,18.4],
[8366,9.3,10.1,10.9,11.7,12.5,13.3,14.1,14.9,15.7,16.5,17.3,18.1,18.9],
[8374,9.0,9.8,10.6,11.4,12.2,13.0,13.8,14.6,15.4,16.2,17.0,17.8],
[8382,9.2,10.0,10.8,11.6,12.4,13.2],[8390,8.9,9.7,10.5,11.3,12.1,12.9,13.5],[8398,9.0,9.8,10.6,11.4,12.2,13.0],
[8406,8.8,9.6,10.4,11.2,12.0,12.8,13.7],[8414,8.4,9.2,10.0,10.8,11.6,12.4],
[8422,7.0,7.8,8.6,9.4,10.2,11.0,11.8,12.5],[8430,5.6,6.4,7.2,8.0,8.8,9.6,10.4,11.2,12.0],
[8438,5.4,6.2,7.0,7.8,8.6,9.4,10.2,11.0,11.8],[8446,5.5,6.3,7.1,7.9,8.7,9.5,10.3,11.0],
[8454,5.6,6.4,7.2,8.0,8.8,9.6,10.4,11.2],[8462,5.3,6.1,6.9,7.7,8.5,9.3,10.1,10.8],
[8470,5.4,6.2,7.0,7.8,8.6,9.4,10.2,11.0],[8478,5.5,6.3,7.1,7.9,8.7,9.5,10.3],
[8486,5.4,6.2,7.0,7.8,8.6,9.4,10.2,10.8],[8494,5.6,6.4,7.2,8.0,8.8,9.6,10.4],
[8502,5.5,6.3,7.1,7.9,8.7,9.5,10.3,10.9],[8510,5.7,6.5,7.3,8.1,8.9,9.7,10.5],
[8518,5.6,6.4,7.2,8.0,8.8,9.6,10.4,11.1],[8526,5.8,6.6,7.4,8.2,9.0,9.8,10.6],
[8534,6.0,6.8,7.6,8.4,9.2,10.0,10.8],[8542,5.9,6.7,7.5,8.3,9.1,9.9,10.6],[8550,6.1,6.9,7.7,8.5,9.3,10.1],
[8558,6.0,6.8,7.6,8.4,9.2,10.0,10.6],[8566,6.2,7.0,7.8,8.6,9.4,10.2],[8574,6.0,6.8,7.6,8.4,9.2,10.0],
[8582,5.9,6.7,7.5,8.3,9.1,9.9,10.6],[8590,6.1,6.9,7.7,8.5,9.3,10.1,11.0],
[8598,6.0,6.8,7.6,8.4,9.2,10.0,11.0,11.7,12.4,13.1,13.8,14.8],[8606,6.2,7.0,7.8,8.6,9.4,10.2,11.2,12.0,12.8],
[8614,6.0,6.8,7.6,8.4,9.2,10.0],[8622,5.8,6.6,7.4,8.2,9.0,9.8],[8630,5.9,6.7,7.5,8.3,9.1,9.9],
[8638,5.7,6.5,7.3,8.1,8.9,9.7],[8646,5.8,6.6,7.4,8.2,9.0,9.8,10.4],[8654,5.6,6.4,7.2,8.0,8.8,9.6],
[8662,5.7,6.5,7.3,8.1,8.9,9.7],[8670,5.5,6.3,7.1,7.9,8.7,9.5,10.1,10.8,11.5,12.2],
[8678,5.6,6.4,7.2,8.0,8.8,9.6,10.2,11.0,11.8,12.5],[8686,5.4,6.2,7.0,7.8,8.6,9.4],
[8694,5.6,6.4,7.2,8.0,8.8,9.6],[8702,5.5,6.3,7.1,7.9,8.7,9.5],[8710,5.6,6.4,7.2,8.0,8.8,9.5],
[8718,5.4,6.2,7.0,7.8,8.6,9.4],[8726,5.6,6.4,7.2,8.0,8.8,9.4],[8734,5.7,6.5,7.3,8.1,8.9,9.6],
[8742,5.8,6.6,7.4,8.2,9.0,9.8],[8750,6.0,6.8,7.6,8.4,9.2,10.0],[8758,6.4,7.2,8.0,8.8,9.6],
[8766,7.8,8.6,9.4,10.1],[8776,10.1,10.8,11.6,12.3,12.9],
[9004,5.0,5.8,6.6,7.4,8.2,9.0,9.8,10.6],[9012,4.6,5.4,6.2,7.0,7.8,8.6,9.4,10.2],
[9020,5.2,6.0,6.8,7.6,8.4,9.2,10.0,10.8,11.6,12.4,13.2,14.0],[9028,5.6,6.4,7.2,8.0,8.8,9.6,10.4,11.2,12.0,12.8,13.6],
[9036,5.8,6.6,7.4,8.2,9.0,9.8],[9044,5.6,6.4,7.2,8.0,8.8,9.6],[9052,5.7,6.5,7.3,8.1,8.9,9.7,10.4],
[9060,5.8,6.6,7.4,8.2,9.0,9.8,10.6,11.4],[9068,5.9,6.7,7.5,8.3,9.1,9.9,10.7],
[9076,5.8,6.6,7.4,8.2,9.0,9.8,10.6,11.4,12.0],[9084,5.7,6.5,7.3,8.1,8.9,9.7,10.5,11.3,12.1,12.7],
[9092,5.8,6.6,7.4,8.2,9.0,9.8,10.6,11.4,12.2],[9100,5.9,6.7,7.5,8.3,9.1,9.9,10.7,11.5,12.3,12.7],
[9108,5.8,6.6,7.4,8.2,9.0,9.8,10.6,11.2],[9116,5.7,6.5,7.3,8.1,8.9,9.7,10.5,11.3],
[9124,5.9,6.7,7.5,8.3,9.1,9.9,10.7],[9132,5.8,6.6,7.4,8.2,9.0,9.8,10.6,11.1],
[9140,5.7,6.5,7.3,8.1,8.9,9.7,10.5],[9148,5.9,6.7,7.5,8.3,9.1,9.9,10.8],[9156,5.8,6.6,7.4,8.2,9.0,9.8,10.6],
[9164,5.6,6.4,7.2,8.0,8.8,9.6,10.4,11.0],[9172,5.8,6.6,7.4,8.2,9.0,9.8,10.6],
[9180,5.6,6.4,7.2,8.0,8.8,9.6,10.4,11.2],[9188,5.3,6.1,6.9,7.7,8.5,9.3,10.1,10.9],
[9196,5.0,5.8,6.6,7.4,8.2,9.0,9.8,10.6],[9204,4.8,5.6,6.4,7.2,8.0,8.8,9.6,10.4,11.0],
[9212,4.6,5.4,6.2,7.0,7.8,8.6,9.4,10.2],[9220,4.6,5.4,6.2,7.0,7.8,8.6,9.4,10.2,11.0],
[9228,4.7,5.5,6.3,7.1,7.9,8.7,9.5,10.3],[9236,4.6,5.4,6.2,7.0,7.8,8.6,9.4,10.2,10.9],
[9244,4.8,5.6,6.4,7.2,8.0,8.8,9.6,10.4],[9252,5.0,5.8,6.6,7.4,8.2,9.0,9.8,10.6,11.2],
[9260,5.2,6.0,6.8,7.6,8.4,9.2,10.0,10.8],[9268,5.4,6.2,7.0,7.8,8.6,9.4,10.2,11.0],
[9276,5.3,6.1,6.9,7.7,8.5,9.3,10.1,10.9],[9284,5.5,6.3,7.1,7.9,8.7,9.5,10.3,11.0],
[9292,5.4,6.2,7.0,7.8,8.6,9.4,10.2,10.9],[9300,5.3,6.1,6.9,7.7,8.5,9.3,10.1,11.0],
[9308,5.2,6.0,6.8,7.6,8.4,9.2,10.0,10.8],[9316,5.1,5.9,6.7,7.5,8.3,9.1,9.9,10.7],
[9324,5.2,6.0,6.8,7.6,8.4,9.2,10.0,10.8,11.2],[9332,5.0,5.8,6.6,7.4,8.2,9.0,9.8,10.6],
[9340,5.1,5.9,6.7,7.5,8.3,9.1,9.9,10.7],[9348,5.3,6.1,6.9,7.7,8.5,9.3,10.1,10.6],
[9356,5.2,6.0,6.8,7.6,8.4,9.2,10.0,10.8],[9364,5.4,6.2,7.0,7.8,8.6,9.4,10.2],
[9372,5.2,6.0,6.8,7.6,8.4,9.2,10.0,10.7],[9380,5.0,5.8,6.6,7.4,8.2,9.0,9.8,10.6],
[9388,5.1,5.9,6.7,7.5,8.3,9.1,9.9],[9396,5.3,6.1,6.9,7.7,8.5,9.3,10.1,10.8],
[9404,5.0,5.8,6.6,7.4,8.2,9.0,9.8,10.4],[9412,4.8,5.6,6.4,7.2,8.0,8.8,9.6,10.4],
[9420,4.9,5.7,6.5,7.3,8.1,8.9,9.7,10.5],[9428,5.0,5.8,6.6,7.4,8.2,9.0,9.8,10.6,11.2],
[9436,4.8,5.6,6.4,7.2,8.0,8.8,9.6,10.4,11.0],[9444,4.7,5.5,6.3,7.1,7.9,8.7,9.5,10.3,11.1],
[9452,4.8,5.6,6.4,7.2,8.0,8.8,9.6,10.4],[9460,4.6,5.4,6.2,7.0,7.8,8.6,9.4,10.2,11.0],
[9468,4.7,5.5,6.3,7.1,7.9,8.7,9.5,10.3],[9476,4.6,5.4,6.2,7.0,7.8,8.6,9.4,10.2,10.8],
[9484,4.8,5.6,6.4,7.2,8.0,8.8,9.6,10.4],[9492,5.0,5.8,6.6,7.4,8.2,9.0,9.8,10.5],
[9500,5.2,6.0,6.8,7.6,8.4,9.2,10.0,10.8],[9508,5.4,6.2,7.0,7.8,8.6,9.4,10.2],
[9516,5.5,6.3,7.1,7.9,8.7,9.5,10.3,11.0],[9524,5.6,6.4,7.2,8.0,8.8,9.6,10.4,11.2,12.0],
[9532,5.7,6.5,7.3,8.1,8.9,9.7,10.5,11.3,12.1],[9540,5.6,6.4,7.2,8.0,8.8,9.6,10.4,11.2],
[9548,5.8,6.6,7.4,8.2,9.0,9.8,10.6,11.4],[9556,5.7,6.5,7.3,8.1,8.9,9.7,10.5],
[9564,5.9,6.7,7.5,8.3,9.1,9.9,10.7,11.5],[9572,5.8,6.6,7.4,8.2,9.0,9.8,10.6,11.4,12.0],
[9580,6.0,6.8,7.6,8.4,9.2,10.0,10.8,11.6],[9588,5.9,6.7,7.5,8.3,9.1,9.9,10.7,11.5,12.3],
[9596,6.1,6.9,7.7,8.5,9.3,10.1,10.9,11.7,12.4],[9604,7.4,8.2,9.0,9.8,10.6,11.4,12.2],
[9612,7.8,8.6,9.4,10.2,11.0,11.8,12.5],[9620,8.2,9.0,9.8,10.6,11.4,12.2],
[9664,7.8,8.4,9.0,10.2,10.8,11.6,12.5],[9676,8.0,8.6,10.4,11.0]
];

const corSandstone = [
[8764,4.2,5.0,5.8,6.6,7.4,8.2,9.0,9.8],[8772,3.4,4.2,5.0,5.8,6.6,7.4,8.2,9.0,9.8,10.1],
[8780,0.1,0.8,1.5,2.2,2.9,3.6,4.4,5.2,6.0,6.8,7.6,8.4,9.2],[8788,4.0,4.8,5.6,6.4,7.2,8.0,8.8,9.6],
[8796,5.0,5.8,6.6,7.4,8.2,9.0,9.7],[8804,5.2,6.0,6.8,7.6,8.4,9.2,10.0],[8812,5.4,6.2,7.0,7.8,8.6,9.4],
[8820,5.3,6.1,6.9,7.7,8.5,9.3,10.0],[8828,5.5,6.3,7.1,7.9,8.7,9.5],[8836,5.4,6.2,7.0,7.8,8.6,9.4,10.2,10.9],
[8844,5.2,6.0,6.8,7.6,8.4,9.2,10.0,10.8,11.6],[8852,5.0,5.8,6.6,7.4,8.2,9.0],[8860,4.8,5.6,6.4,7.2,8.0,8.6],
[8868,4.4,5.2,6.0,6.8,7.6,8.3],[8876,4.6,5.4,6.2,7.0,7.8,8.4],[8884,4.7,5.5,6.3,7.1,7.9,8.4],
[8892,4.8,5.6,6.4,7.2,8.0],[8900,4.6,5.4,6.2,7.0,7.8,8.3],[8908,4.7,5.5,6.3,7.1,7.9],
[8916,4.5,5.3,6.1,6.9,7.7,8.2],[8924,4.6,5.4,6.2,7.0,7.8],[8932,3.8,4.6,5.4,6.2,7.0,7.8,8.4],
[8940,2.8,3.5,4.2,5.0,5.8,6.6,7.4,8.2],[8948,3.2,4.0,4.8,5.6,6.4,7.2,8.0],[8956,4.0,4.8,5.6,6.4,7.2,7.9],
[8964,4.4,5.2,6.0,6.8,7.6],[8972,4.2,5.0,5.8,6.6,7.4],[8980,4.0,4.8,5.6,6.4,7.2,7.8],
[8988,3.6,4.4,5.2,6.0,6.8,7.4],[8996,3.0,3.8,4.6,5.4,6.2,7.0],[9004,1.6,2.4,3.2,3.8,4.6,5.4,6.0],
[9012,3.6,4.4,5.0],
[9084,0.2,1.0,1.8,2.6,3.4,4.2],[9092,-0.1,0.7,1.5,2.3,3.1,3.9,4.6],[9100,0.0,0.8,1.6,2.4,3.2,4.0,4.5],
[9108,0.2,1.0,1.8,2.6,3.4,4.2],[9116,-0.2,0.6,1.4,2.2,3.0,3.8],[9124,0.1,0.9,1.7,2.5,3.3,4.1,4.7],
[9132,0.0,0.8,1.6,2.4,3.2,4.0,4.4],[9140,0.2,1.0,1.8,2.6,3.4,4.2,5.0,5.5],[9148,0.4,1.2,2.0,2.8,3.6,4.4],
[9156,0.3,1.1,1.9,2.7,3.5,4.3],[9164,0.6,1.4,2.2,3.0,3.8,4.6,5.4],[9172,0.5,1.3,2.1,2.9,3.7,4.5],
[9180,0.8,1.6,2.4,3.2,4.0],[9188,0.6,1.4,2.2,3.0,3.8,4.4],[9196,1.0,1.8,2.6,3.4,4.2],[9204,1.2,2.0,2.8,3.6],
[9212,1.5,2.3,3.1,3.8],[9220,2.4,3.0],[9236,-0.2,0.6,1.2],[9244,-0.3,0.5,1.3],[9252,-0.2,0.6,1.4,1.9],
[9260,-0.1,0.7,1.5],[9268,0.0,0.8,1.6],[9276,-0.2,0.6,1.4,2.0,2.8,3.6,4.2],[9284,0.0,0.8,1.6,2.4],
[9292,-0.1,0.7,1.5,2.3,3.1],[9300,0.0,0.8,1.6,2.4,3.2,4.0],[9308,-0.2,0.6,1.4,2.2,3.0,3.8,4.4],
[9316,0.1,0.9,1.7,2.5,3.3,4.1],[9324,0.0,0.8,1.6,2.4,3.2,4.0,4.8],
[9332,-0.1,0.7,1.5,2.3,3.1,3.9,4.7,5.4,6.1,6.8],[9340,0.0,0.8,1.6,2.4,3.2,4.0,4.8,5.6,6.3,7.1],
[9348,0.2,1.0,1.8,2.6,3.4,4.2],[9356,0.1,0.9,1.7,2.5,3.3],[9364,0.4,1.2,2.0,2.8,3.6,4.2],
[9372,0.6,1.4,2.2,3.0,3.8],[9380,0.8,1.6,2.4,3.2],[9388,1.4,2.2,2.8],
[9416,0.2,1.0,1.8,2.6,3.4,4.0],[9424,0.3,1.1,1.9,2.7,3.5,4.3],[9432,0.2,1.0,1.8,2.6,3.4,4.2,4.8],
[9440,0.4,1.2,2.0,2.8,3.6,4.4],[9448,0.3,1.1,1.9,2.7,3.5,4.1],[9456,0.6,1.4,2.2,3.0,3.8],
[9464,1.0,1.8,2.6,3.4],[9472,1.6,2.4],
[9496,0.2,1.0,1.8,2.6,3.4,4.2,5.0],[9504,0.1,0.9,1.7,2.5,3.3,4.1,4.9,5.6],[9512,0.3,1.1,1.9,2.7,3.5,4.3,5.1,5.7],
[9520,0.9,1.7,2.5],[9530,1.4,2.2,3.0,3.8,4.6,5.4,6.0],[9538,1.2,2.0,2.8,3.6,4.4,5.2,5.9],
[9546,1.0,1.8,2.6,3.4,4.2,5.0,5.8],[9554,1.5,2.3,3.1,3.9,4.7,5.5],[9562,1.3,2.1],
[9580,0.2,1.0,1.8,2.6,3.4,4.2],[9588,-0.2,0.6,1.4,2.2,3.0,3.8,4.6],[9596,-0.3,0.5,1.3,2.1,2.9,3.7,4.5,5.3],
[9604,-0.2,0.6,1.4,2.2,3.0,3.8,4.6,5.4],[9612,-0.1,0.7,1.5,2.3,3.1,3.9,4.7,5.5],
[9620,0.0,0.8,1.6,2.4,3.2,4.0,4.8,5.6],[9628,0.2,1.0,1.8,2.6,3.4,4.2,5.0,5.8],
[9636,0.1,0.9,1.7,2.5,3.3,4.1,4.9],[9644,0.0,0.8,1.6,2.4,3.2,4.0,4.8,5.4],
[9652,0.2,1.0,1.8,2.6,3.4,4.2,5.0],[9660,0.4,1.2,2.0,2.8,3.6,4.4,5.2],[9668,0.6,1.4,2.2,3.0,3.8,4.6,5.4],
[9676,0.9,1.7,2.5,3.3,4.1,4.9,5.6],[9684,1.3,2.1,2.9,3.7,4.5,5.3,5.9],[9692,1.6,2.4,3.2,4.0,4.8,5.6],
[9700,2.0,2.8,3.6,4.4,5.2,6.0],[9708,2.4,3.2,4.0,4.8,5.6,6.2],[9716,2.8,3.6,4.4,5.2,6.0,6.8],
[9724,3.2,4.0,4.8,5.6,6.4,7.0],[9732,3.4,4.2,5.0,5.8,6.6,7.4],[9740,3.6,4.4,5.2,6.0,6.8,7.6],
[9748,4.0,4.8,5.6,6.4,7.2,8.0,8.8],[9756,4.2,5.0,5.8,6.6,7.4,8.2,9.0,9.8],
[9764,4.4,5.2,6.0,6.8,7.6,8.4,9.2,10.0],[9772,4.8,5.6,6.4,7.2,8.0,8.8,9.6],
[9780,5.0,5.8,6.6,7.4,8.2,9.0,9.8,10.2],[9788,5.2,6.0,6.8,7.6,8.4,9.2,10.0,10.6],
[9796,5.4,6.2,7.0,7.8,8.6,9.4],[9804,5.6,6.4,7.2,8.0,8.8,9.6],[9812,5.6,6.4,7.2,8.0,8.8,9.4],
[9820,5.8,6.6,7.4,8.2,9.0],[9828,5.6,6.4,7.2,8.0,8.8,9.2],[9836,5.8,6.6,7.4,8.2,8.8],[9844,6.4,7.2,8.0,8.6]
];

// ---- styles ----
const seriesColors = { Dolomite: '#0072BD', Limestone: '#DC168B', Sandstone: '#F5911F' };
const drawOrder = { Sandstone: 1, Limestone: 2, Dolomite: 3 };
const tickFont = { family: '"Liberation Sans", Arial, sans-serif', size: 12 };
const xTitleFont = { family: '"Liberation Sans", Arial, sans-serif', size: 25 };
const yTitleFont = { family: '"Liberation Sans", Arial, sans-serif', size: 27 };

function rowsToPoints(rows) {
  const pts = [];
  rows.forEach(r => { for (let i = 1; i < r.length; i++) pts.push({ x: r[i], y: r[0] }); });
  return pts;
}

function makeDataset(name, rows) {
  return {
    label: name,
    data: rowsToPoints(rows),
    borderColor: seriesColors[name],
    backgroundColor: 'rgba(0,0,0,0)',
    pointRadius: 3.6,
    pointBorderWidth: 1.5,
    pointHoverRadius: 3.6,
    showLine: false,
    order: drawOrder[name]
  };
}

const boxPlugin = {
  id: 'matlabBox',
  afterDraw(chart) {
    const { ctx, chartArea: a, scales: { x, y } } = chart;
    ctx.save();
    ctx.strokeStyle = '#4a4a4a';
    ctx.lineWidth = 1;
    ctx.strokeRect(Math.round(a.left) + 0.5, Math.round(a.top) + 0.5, Math.round(a.right - a.left) - 1, Math.round(a.bottom - a.top) - 1);
    ctx.beginPath();
    x.ticks.forEach(t => {
      const px = Math.round(x.getPixelForValue(t.value)) + 0.5;
      ctx.moveTo(px, a.bottom); ctx.lineTo(px, a.bottom - 5);
      ctx.moveTo(px, a.top); ctx.lineTo(px, a.top + 5);
    });
    y.ticks.forEach(t => {
      const py = Math.round(y.getPixelForValue(t.value)) + 0.5;
      ctx.moveTo(a.left, py); ctx.lineTo(a.left + 5, py);
      ctx.moveTo(a.right, py); ctx.lineTo(a.right - 5, py);
    });
    ctx.stroke();
    ctx.restore();
  }
};

function makeChart(canvasId, rows, geo) {
  const datasets = [
    makeDataset('Dolomite', rows.Dolomite),
    makeDataset('Limestone', rows.Limestone),
    makeDataset('Sandstone', rows.Sandstone)
  ];
  return new Chart(document.getElementById(canvasId), {
    type: 'scatter',
    data: { datasets },
    plugins: [boxPlugin],
    options: {
      responsive: false,
      animation: false,
      events: [],
      layout: { padding: { top: geo.top, right: geo.right, left: 0, bottom: 0 } },
      plugins: { legend: { display: false }, tooltip: { enabled: false }, title: { display: false } },
      scales: {
        x: {
          type: 'linear',
          min: porosityTicks[0], max: porosityTicks[porosityTicks.length - 1],
          afterBuildTicks: s => { s.ticks = porosityTicks.map(v => ({ value: v })); },
          ticks: { font: tickFont, color: '#333', padding: 8, maxRotation: 0, autoSkip: false, callback: v => String(v) },
          grid: { color: '#e7e7e7', lineWidth: 1, drawTicks: false },
          border: { display: false },
          title: { display: true, text: xLabel, font: xTitleFont, color: '#262626', padding: { top: 0, bottom: geo.xTitleBottom } },
          afterFit: s => { s.height = geo.xHeight; }
        },
        y: {
          type: 'linear',
          reverse: true,
          min: depthTicks[0], max: depthTicks[depthTicks.length - 1],
          afterBuildTicks: s => { s.ticks = depthTicks.map(v => ({ value: v })); },
          ticks: { font: tickFont, color: '#333', padding: 3, autoSkip: false, callback: v => String(v) },
          grid: { color: '#e7e7e7', lineWidth: 1, drawTicks: false },
          border: { display: false },
          title: { display: true, text: yLabel, font: yTitleFont, color: '#262626', padding: { top: geo.yTitleTop, bottom: 0 } },
          afterFit: s => { s.width = geo.yWidth; }
        }
      }
    }
  });
}

makeChart('cLeft', { Dolomite: rawDolomite, Limestone: rawLimestone, Sandstone: rawSandstone },
  { top: 60, right: 16, yWidth: 78, xHeight: 60, xTitleBottom: 1, yTitleTop: 9 });
makeChart('cRight', { Dolomite: corDolomite, Limestone: corLimestone, Sandstone: corSandstone },
  { top: 58, right: 10, yWidth: 82, xHeight: 62, xTitleBottom: 2, yTitleTop: 7 });

// ---- legend (HTML) ----
const legendEl = document.getElementById('legend');
const legendTops = [33, 99, 163];
seriesNames.forEach((name, i) => {
  const item = document.createElement('div');
  item.className = 'item';
  item.style.top = legendTops[i] + 'px';
  item.innerHTML = '<span class="mark" style="border-color:' + seriesColors[name] + '"></span><span class="lab">' + name + '</span>';
  legendEl.appendChild(item);
});
</script>
</body>
</html>
